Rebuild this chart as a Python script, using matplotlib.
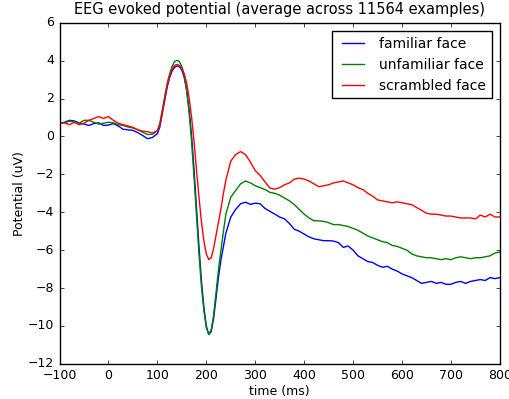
import matplotlib
matplotlib.use('Agg')
import matplotlib.pyplot as plt

# time axis (ms) and averaged potentials (uV)
times = [-100, -90, -80, -70, -60, -50, -40, -30, -20, -10, 0, 10, 20, 30, 40, 50, 60, 70, 80, 90,
         100, 105, 110, 115, 120, 125, 130, 135, 140, 145, 150, 155, 160, 165, 170, 175, 180, 185,
         190, 195, 200, 205, 210, 215, 220, 225, 230, 235, 240, 250, 260, 270, 280, 290, 300, 310,
         320, 330, 340, 350, 360, 370, 380, 390, 400, 410, 420, 430, 440, 450, 460, 470, 480, 490,
         500, 510, 520, 530, 540, 550, 560, 570, 580, 590, 600, 610, 620, 630, 640, 650, 660, 670,
         680, 690, 700, 710, 720, 730, 740, 750, 760, 770, 780, 790, 800]

familiar = [0.70, 0.75, 0.85, 0.82, 0.72, 0.65, 0.58, 0.68, 0.72, 0.58, 0.60, 0.68, 0.55, 0.38,
            0.35, 0.32, 0.20, 0.05, -0.12, -0.05,
            0.15, 0.5, 1.2, 1.9, 2.6, 3.1, 3.45, 3.65, 3.72, 3.68, 3.5, 3.1, 2.4, 1.4, 0.0, -1.8,
            -3.8, -5.8, -7.6, -9.0, -10.0, -10.45, -10.3, -9.6, -8.5, -7.4, -6.5, -5.8, -5.1,
            -4.25, -3.85, -3.55, -3.47, -3.58, -3.52, -3.55, -3.8, -3.95, -4.1, -4.25, -4.35,
            -4.6, -4.9, -5.0, -5.15, -5.3, -5.4, -5.45, -5.5, -5.5, -5.52, -5.6, -5.85, -5.78,
            -6.0, -6.3, -6.45, -6.6, -6.65, -6.8, -6.9, -6.85, -7.0, -7.1, -7.25, -7.35, -7.45,
            -7.6, -7.75, -7.7, -7.65, -7.75, -7.7, -7.8, -7.8, -7.7, -7.65, -7.75, -7.65, -7.6,
            -7.55, -7.6, -7.45, -7.5, -7.45]

unfamiliar = [0.70, 0.72, 0.80, 0.78, 0.70, 0.85, 0.85, 0.75, 0.65, 0.70, 0.75, 0.72, 0.62, 0.58,
              0.50, 0.45, 0.35, 0.22, 0.10, 0.12,
              0.30, 0.7, 1.4, 2.1, 2.8, 3.3, 3.7, 3.95, 4.02, 3.95, 3.7, 3.2, 2.4, 1.2, -0.3, -2.2,
              -4.2, -6.2, -7.9, -9.2, -10.1, -10.45, -10.2, -9.4, -8.2, -7.0, -6.0, -5.0, -4.1,
              -3.2, -2.85, -2.5, -2.35, -2.45, -2.6, -2.7, -2.8, -2.95, -3.0, -3.1, -3.25,
              -3.4, -3.6, -3.85, -4.1, -4.3, -4.45, -4.45, -4.48, -4.55, -4.65, -4.65, -4.7, -4.75,
              -4.85, -4.95, -5.1, -5.25, -5.35, -5.45, -5.55, -5.6, -5.75, -5.8, -5.9, -6.0, -6.2,
              -6.3, -6.35, -6.4, -6.4, -6.45, -6.5, -6.45, -6.5, -6.4, -6.35, -6.4, -6.45, -6.4,
              -6.4, -6.35, -6.3, -6.15, -6.1]

scrambled = [0.70, 0.72, 0.62, 0.75, 0.62, 0.70, 0.85, 0.95, 1.05, 0.95, 1.05, 0.85, 0.70, 0.62,
             0.55, 0.48, 0.35, 0.28, 0.25, 0.18,
             0.30, 0.6, 1.3, 2.0, 2.7, 3.2, 3.55, 3.75, 3.8, 3.75, 3.6, 3.3, 2.8, 2.0, 1.0, -0.3,
             -1.8, -3.2, -4.5, -5.5, -6.2, -6.5, -6.4, -5.9, -5.2, -4.5, -3.8, -3.0, -2.3,
             -1.3, -0.95, -0.8, -0.95, -1.35, -1.8, -2.05, -2.4, -2.72, -2.78, -2.7, -2.55,
             -2.45, -2.25, -2.2, -2.25, -2.35, -2.5, -2.65, -2.6, -2.55, -2.45, -2.4, -2.35, -2.45,
             -2.55, -2.7, -2.8, -3.0, -3.15, -3.35, -3.4, -3.45, -3.5, -3.45, -3.5, -3.55, -3.6,
             -3.75, -3.9, -4.05, -4.1, -4.1, -4.15, -4.2, -4.2, -4.25, -4.3, -4.3, -4.3, -4.35,
             -4.15, -4.25, -4.1, -4.25, -4.25]

series = [('familiar face', familiar, 'b'),
          ('unfamiliar face', unfamiliar, 'g'),
          ('scrambled face', scrambled, 'r')]

plt.style.use('classic')
fig = plt.figure(figsize=(5.09, 3.99), dpi=100, facecolor='white')
ax = fig.add_axes([0.117, 0.088, 0.865, 0.855])

for label, values, color in series:
    ax.plot(times, values, color=color, linewidth=1.0, label=label)

ax.set_xlim(-100, 800)
ax.set_ylim(-12, 6)
ax.set_xticks(range(-100, 801, 100))
ax.set_yticks(range(-12, 7, 2))
ax.tick_params(labelsize=9, length=3)
ax.set_xlabel('time (ms)', fontsize=9, labelpad=2)
ax.set_ylabel('Potential (uV)', fontsize=9, labelpad=1)
ax.set_title('EEG evoked potential (average across 11564 examples)', fontsize=10.5, y=1.005)
ax.legend(loc='upper right', fontsize=10, handlelength=2.2, borderaxespad=0.6)

fig.savefig('out.png', dpi=100, facecolor='white')
